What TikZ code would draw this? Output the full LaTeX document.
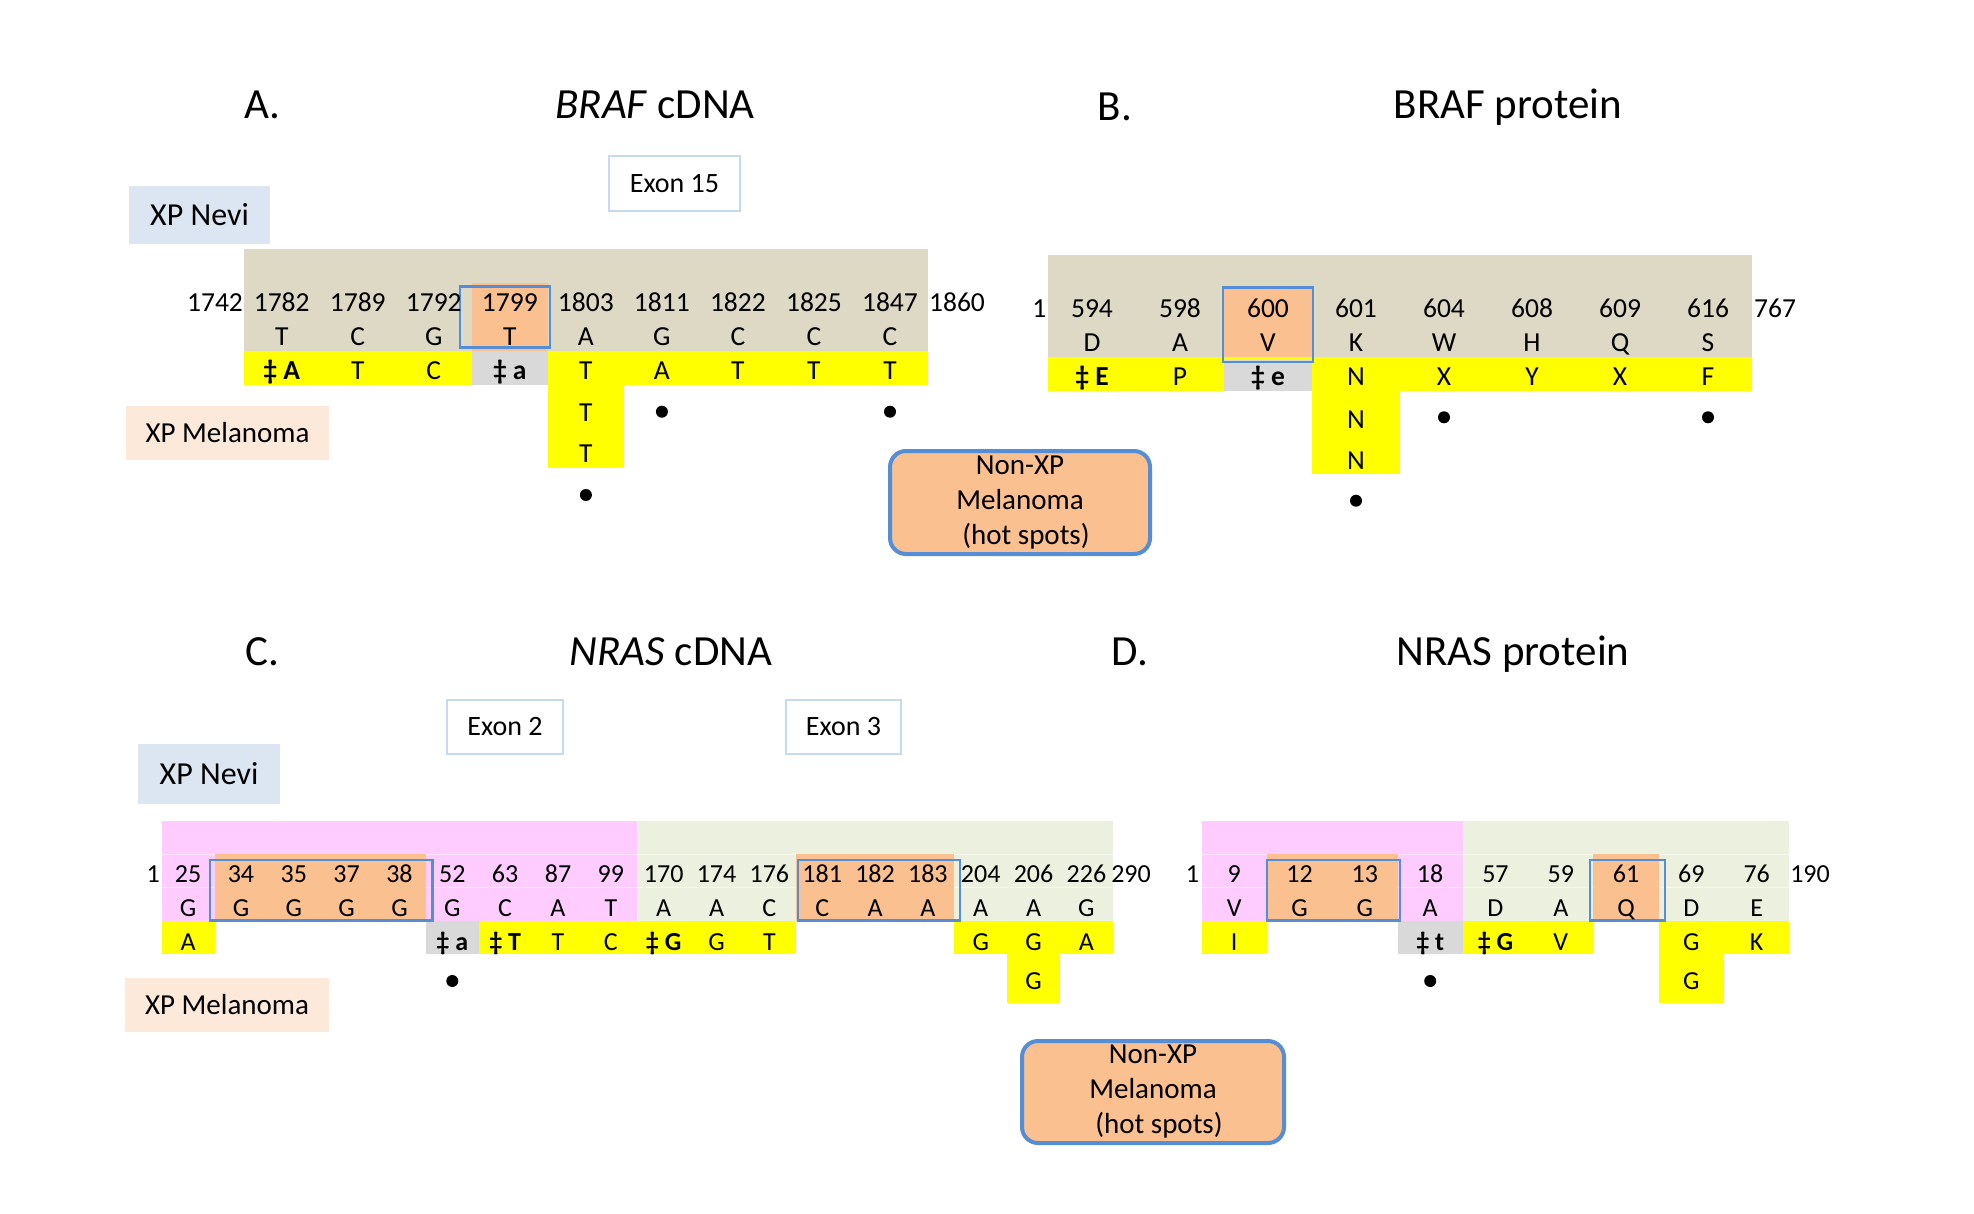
\documentclass[tikz,border=0pt]{standalone}
\usepackage{fontspec}
\setmainfont{Carlito}
\definecolor{tanc}{HTML}{DDD9C4}
\definecolor{pinkc}{HTML}{FFCCFF}
\definecolor{greenc}{HTML}{EBF1DE}
\definecolor{orangec}{HTML}{FAC090}
\definecolor{greyc}{HTML}{D9D9D9}
\definecolor{yel}{HTML}{FFFF00}
\definecolor{nevi}{HTML}{DCE6F2}
\definecolor{mela}{HTML}{FDE9D9}
\definecolor{hotblue}{HTML}{558ED5}
\definecolor{exonb}{HTML}{C6D9F1}
\tikzset{
 num/.style={font=\fontsize{13.75}{16}\selectfont,anchor=base,inner sep=0pt},
 numc/.style={font=\fontsize{13}{15}\selectfont,anchor=base,inner sep=0pt},
 ttl/.style={font=\fontsize{21.5}{26}\selectfont,anchor=base,inner sep=0pt},
 hot/.style={draw=hotblue,line width=1.25pt},
 dotmark/.style={circle,fill=black,inner sep=0pt,minimum size=6pt},
 exonbox/.style={draw=exonb,line width=1pt,fill=white,inner sep=0pt,font=\fontsize{14}{17}\selectfont},
 nonxp/.style={draw=hotblue,line width=2pt,fill=orangec,rounded corners=8pt,align=center,inner sep=0pt,font=\fontsize{14.5}{17.5}\selectfont},
 nevibox/.style={fill=nevi,inner sep=0pt,font=\fontsize{16}{19}\selectfont},
 melabox/.style={fill=mela,inner sep=0pt,font=\fontsize{14.5}{17}\selectfont},
 faint/.style={white,opacity=0.5,line width=0.4pt},
}
\begin{document}
\begin{tikzpicture}[x=0.5pt,y=-0.5pt]
\useasboundingbox (0,0) rectangle (1974,1214);
\fill[white] (0,0) rectangle (1974,1214);

% ---------------- titles ----------------
\node[ttl] (tA) at (262,119) {A.};
\node[ttl] (tAt) at (655,119) {\textit{BRAF} cDNA};
\node[ttl] (tB) at (1115,121) {B.};
\node[ttl] (tBt) at (1508,119) {BRAF protein};
\node[ttl] (tC) at (262,665) {C.};
\node[ttl] (tCt) at (671,665) {\textit{NRAS} cDNA};
\node[ttl] (tD) at (1130,665) {D.};
\node[ttl] (tDt) at (1513,665) {NRAS protein};

% ---------------- labels ----------------
\node[nevibox,minimum width=70.5pt,minimum height=29pt] (neviA) at (199.5,215) {XP Nevi};
\node[nevibox,minimum width=71pt,minimum height=30pt] (neviC) at (209,774) {XP Nevi};
\node[melabox,minimum width=101.5pt,minimum height=27pt] (melaA) at (227.5,433) {XP Melanoma};
\node[melabox,minimum width=102pt,minimum height=27pt] (melaC) at (227,1005) {XP Melanoma};
\node[exonbox,minimum width=65.5pt,minimum height=27.5pt] (ex15) at (674.5,183.5) {Exon 15};
\node[exonbox,minimum width=58pt,minimum height=27pt] (ex2) at (505,727) {Exon 2};
\node[exonbox,minimum width=57.5pt,minimum height=27pt] (ex3) at (843.5,727) {Exon 3};
\node[nonxp,minimum width=130pt,minimum height=51.5pt] (hotA) at (1020,502.5) {Non-XP\\Melanoma\\\hspace*{6pt}(hot spots)};
\node[nonxp,minimum width=131pt,minimum height=51pt] (hotC) at (1153,1092) {Non-XP\\Melanoma\\\hspace*{6pt}(hot spots)};

% ---------------- A: BRAF cDNA ----------------
\fill[tanc] (243.7,249) rectangle (928,350.7);
\fill[orangec] (471.9,282.7) rectangle (547.9,350.7);
\fill[yel] (243.7,350.7) rectangle (928,385);
\fill[greyc] (471.9,350.7) rectangle (547.9,385);
\fill[yel] (547.9,385) rectangle (623.9,468.3);
\draw[hot] (460,286.7) rectangle (550,347.3);
\node[num] (aL) at (215,311) {1742};
\node[num] (aR) at (957,311) {1860};
\foreach \n/\l/\m [count=\i] in {1782/T/\textbf{‡ A},1789/C/T,1792/G/C,1799/T/\textbf{‡ a},1803/A/T,1811/G/A,1822/C/T,1825/C/T,1847/C/T}{
  \pgfmathsetmacro\cx{243.7+76.03*(\i-0.5)}
  \node[num] (an\i) at (\cx,311) {\n};
  \node[num] (al\i) at (\cx,345.5) {\l};
  \node[num] (am\i) at (\cx,379) {\m};
}
\node[num] (ax1) at (585.9,421.5) {T};
\node[num] (ax2) at (585.9,462) {T};
\node[dotmark] (ad1) at (661.9,411.7) {};
\node[dotmark] (ad2) at (890,411.7) {};
\node[dotmark] (ad3) at (585.9,495) {};

% ---------------- B: BRAF protein ----------------
\fill[tanc] (1048,255) rectangle (1752,357.3);
\fill[orangec] (1224,287.7) rectangle (1312,360);
\fill[yel] (1048,357.3) rectangle (1752,391);
\fill[greyc] (1224,360) rectangle (1312,391);
\fill[yel] (1312,391) rectangle (1400,474.3);
\draw[hot] (1223,287.7) rectangle (1313,362);
\node[num] (bL) at (1039.3,317) {1};
\node[num] (bR) at (1775,317) {767};
\foreach \n/\l/\m [count=\i] in {594/D/\textbf{‡ E},598/A/P,600/V/\textbf{‡ e},601/K/N,604/W/X,608/H/Y,609/Q/X,616/S/F}{
  \pgfmathsetmacro\cx{1048+88*(\i-0.5)}
  \node[num] (bn\i) at (\cx,317) {\n};
  \node[num] (bl\i) at (\cx,351.5) {\l};
  \node[num] (bm\i) at (\cx,385.5) {\m};
}
\node[num] (bx1) at (1356,428) {N};
\node[num] (bx2) at (1356,469) {N};
\node[dotmark] (bd1) at (1444,417.3) {};
\node[dotmark] (bd2) at (1708,417.3) {};
\node[dotmark] (bd3) at (1356,500.7) {};

% ---------------- C: NRAS cDNA ----------------
\fill[pinkc] (161.7,821) rectangle (637.3,920.7);
\fill[greenc] (637.3,821) rectangle (1112.8,920.7);
\draw[faint] (161.7,854.3) -- (1112.8,854.3) (161.7,887.5) -- (1112.8,887.5);
\fill[orangec] (214.5,854.3) rectangle (425.9,920.7);
\fill[orangec] (795.9,854.3) rectangle (954.4,920.7);
\fill[yel] (161.7,920.7) rectangle (214.5,954);
\fill[greyc] (425.9,920.7) rectangle (478.8,954);
\fill[yel] (478.8,920.7) rectangle (795.9,954);
\fill[yel] (954.4,920.7) rectangle (1112.8,954);
\fill[yel] (1007.2,954) rectangle (1060.1,1003);
\draw[hot] (210,860) rectangle (432.7,920.7);
\draw[hot] (798,860) rectangle (960,920.7);
\node[numc] (cL) at (153.3,882) {1};
\node[numc] (cR) at (1131,882) {290};
\foreach \n/\l [count=\i] in {25/G,34/G,35/G,37/G,38/G,52/G,63/C,87/A,99/T,170/A,174/A,176/C,181/C,182/A,183/A,204/A,206/A,226/G}{
  \pgfmathsetmacro\cx{161.7+52.84*(\i-0.5)}
  \node[numc] (cn\i) at (\cx,882) {\n};
  \node[numc] (cl\i) at (\cx,916) {\l};
}
\foreach \i/\m in {1/A,6/\textbf{‡ a},7/\textbf{‡ T},8/T,9/C,10/\textbf{‡ G},11/G,12/T,16/G,17/G,18/A}{
  \pgfmathsetmacro\cx{161.7+52.84*(\i-0.5)}
  \node[numc] (cm\i) at (\cx,950) {\m};
}
\node[numc] (cx1) at (1033.6,989) {G};
\node[dotmark] (cd1) at (452.3,981) {};

% ---------------- D: NRAS protein ----------------
\fill[pinkc] (1201.6,821) rectangle (1462.8,920.7);
\fill[greenc] (1462.8,821) rectangle (1789.3,920.7);
\draw[faint] (1201.6,854.3) -- (1789.3,854.3) (1201.6,887.5) -- (1789.3,887.5);
\fill[orangec] (1266.9,854.3) rectangle (1397.5,920.7);
\fill[orangec] (1593.4,854.3) rectangle (1658.7,920.7);
\fill[yel] (1201.6,920.7) rectangle (1266.9,954);
\fill[greyc] (1397.5,920.7) rectangle (1462.8,954);
\fill[yel] (1462.8,920.7) rectangle (1593.4,954);
\fill[yel] (1658.7,920.7) rectangle (1789.3,954);
\fill[yel] (1658.7,954) rectangle (1724,1003);
\draw[hot] (1267,860) rectangle (1400,920.7);
\draw[hot] (1590,860) rectangle (1665,920.7);
\node[numc] (dL) at (1192.4,882) {1};
\node[numc] (dR) at (1810,882) {190};
\foreach \n/\l [count=\i] in {9/V,12/G,13/G,18/A,57/D,59/A,61/Q,69/D,76/E}{
  \pgfmathsetmacro\cx{1201.6+65.3*(\i-0.5)}
  \node[numc] (dn\i) at (\cx,882) {\n};
  \node[numc] (dl\i) at (\cx,916) {\l};
}
\foreach \i/\m in {1/I,4/\textbf{‡ t},5/\textbf{‡ G},6/V,8/G,9/K}{
  \pgfmathsetmacro\cx{1201.6+65.3*(\i-0.5)}
  \node[numc] (dm\i) at (\cx,950) {\m};
}
\node[numc] (dx1) at (1691.4,989) {G};
\node[dotmark] (dd1) at (1430.2,981) {};
\end{tikzpicture}
\end{document}
